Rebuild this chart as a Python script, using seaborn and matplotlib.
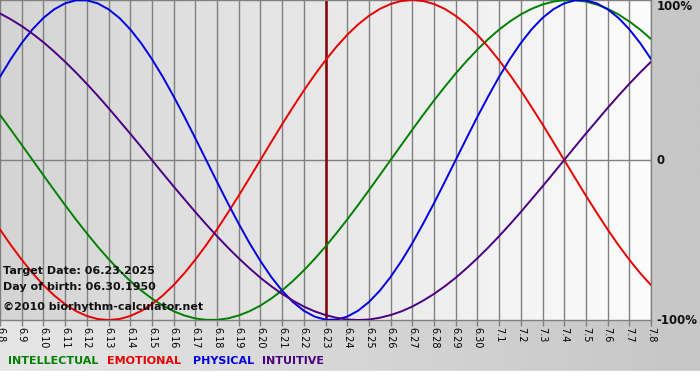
import numpy as np
import pandas as pd
import matplotlib
matplotlib.use('Agg')
import matplotlib.pyplot as plt
from matplotlib.colors import LinearSegmentedColormap
import seaborn as sns

# day labels on the x axis
days = ['6.8', '6.9', '6.10', '6.11', '6.12', '6.13', '6.14', '6.15', '6.16', '6.17',
        '6.18', '6.19', '6.20', '6.21', '6.22', '6.23', '6.24', '6.25', '6.26', '6.27',
        '6.28', '6.29', '6.30', '7.1', '7.2', '7.3', '7.4', '7.5', '7.6', '7.7', '7.8']
target_day = '6.23'
samples_per_day = 2  # values read every half day

# cycle values (-1 .. 1), one every half day from 6.8 to 7.8
intellectual = [0.282, 0.189, 0.095, 0.0, -0.095, -0.189, -0.282, -0.372, -0.458, -0.541,
                -0.618, -0.690, -0.756, -0.815, -0.866, -0.910, -0.945, -0.972, -0.990, -0.999,
                -0.999, -0.990, -0.972, -0.945, -0.910, -0.866, -0.815, -0.756, -0.690, -0.618,
                -0.541, -0.458, -0.372, -0.282, -0.189, -0.095, 0.0, 0.095, 0.189, 0.282,
                0.372, 0.458, 0.541, 0.618, 0.690, 0.756, 0.815, 0.866, 0.910, 0.945,
                0.972, 0.990, 0.999, 0.999, 0.990, 0.972, 0.945, 0.910, 0.866, 0.815, 0.756]
emotional = [-0.434, -0.532, -0.623, -0.707, -0.782, -0.847, -0.901, -0.944, -0.975, -0.994,
             -1.0, -0.994, -0.975, -0.944, -0.901, -0.847, -0.782, -0.707, -0.623, -0.532,
             -0.434, -0.330, -0.223, -0.112, 0.0, 0.112, 0.223, 0.330, 0.434, 0.532,
             0.623, 0.707, 0.782, 0.847, 0.901, 0.944, 0.975, 0.994, 1.0, 0.994,
             0.975, 0.944, 0.901, 0.847, 0.782, 0.707, 0.623, 0.532, 0.434, 0.330,
             0.223, 0.112, 0.0, -0.112, -0.223, -0.330, -0.434, -0.532, -0.623, -0.707, -0.782]
physical = [0.520, 0.631, 0.731, 0.817, 0.888, 0.942, 0.979, 0.998, 0.998, 0.979,
            0.942, 0.888, 0.817, 0.731, 0.631, 0.520, 0.398, 0.270, 0.136, 0.0,
            -0.136, -0.270, -0.398, -0.520, -0.631, -0.731, -0.817, -0.888, -0.942, -0.979,
            -0.998, -0.998, -0.979, -0.942, -0.888, -0.817, -0.731, -0.631, -0.520, -0.398,
            -0.270, -0.136, 0.0, 0.136, 0.270, 0.398, 0.520, 0.631, 0.731, 0.817,
            0.888, 0.942, 0.979, 0.998, 0.998, 0.979, 0.942, 0.888, 0.817, 0.731, 0.631]
intuitive = [0.916, 0.879, 0.837, 0.789, 0.736, 0.677, 0.614, 0.547, 0.476, 0.402,
             0.325, 0.245, 0.165, 0.083, 0.0, -0.083, -0.165, -0.245, -0.325, -0.402,
             -0.476, -0.547, -0.614, -0.677, -0.736, -0.789, -0.837, -0.879, -0.916, -0.946,
             -0.969, -0.986, -0.997, -1.0, -0.997, -0.986, -0.969, -0.946, -0.916, -0.879,
             -0.837, -0.789, -0.736, -0.677, -0.614, -0.547, -0.476, -0.402, -0.325, -0.245,
             -0.165, -0.083, 0.0, 0.083, 0.165, 0.245, 0.325, 0.402, 0.476, 0.547, 0.614]

series_names = ['INTELLECTUAL', 'EMOTIONAL', 'PHYSICAL', 'INTUITIVE']
series_colors = ['#008000', '#e80000', '#0000e0', '#4b0082']
info_lines = ['Target Date: 06.23.2025', 'Day of birth: 06.30.1950', '\u00a92010 biorhythm-calculator.net']


def main():
    rows = []
    for name, vals in zip(series_names, [intellectual, emotional, physical, intuitive]):
        for i, v in enumerate(vals):
            rows.append({'day': i / samples_per_day, 'value': v, 'series': name})
    df = pd.DataFrame(rows)

    sns.set_theme(style='white')
    plt.rcParams['font.family'] = ['DejaVu Sans']

    fig = plt.figure(figsize=(7, 3.8), dpi=100)

    # figure background gradient
    bg = fig.add_axes([0, 0, 1, 1], zorder=-10)
    fig_cmap = LinearSegmentedColormap.from_list('figbg', ['#e6e6e6', '#c6c6c6'])
    bg.imshow(np.linspace(0, 1, 256).reshape(1, -1), aspect='auto', cmap=fig_cmap,
              extent=[0, 1, 0, 1])
    bg.axhspan(0, 9 / 380, color='white')
    bg.set_xlim(0, 1)
    bg.set_ylim(0, 1)
    bg.axis('off')

    ax = fig.add_axes([0, 60 / 380, 651 / 700, 320 / 380])
    n = len(days) - 1
    plot_cmap = LinearSegmentedColormap.from_list('plotbg', ['#d4d4d4', '#fcfcfc'])
    ax.imshow(np.linspace(0, 1, 256).reshape(1, -1), aspect='auto', cmap=plot_cmap,
              extent=[0, n, -1, 1], zorder=-1)

    ax.set_xticks(range(len(days)))
    ax.set_xticklabels(days)
    ax.set_axisbelow(True)
    ax.grid(axis='x', color='#808080', lw=1)
    ax.axhline(0, color='#808080', lw=1, zorder=0.6)

    sns.lineplot(data=df, x='day', y='value', hue='series', hue_order=series_names,
                 palette=series_colors, legend=False, lw=1.4, ax=ax, zorder=3)

    ax.axvline(days.index(target_day), color='#800000', lw=1.8, zorder=2)

    ax.set_xlim(0, n)
    ax.set_ylim(-1, 1)
    ax.set_xlabel('')
    ax.set_ylabel('')
    ax.set_yticks([])
    ax.tick_params(axis='x', bottom=True, length=4, width=1, color='#808080', direction='out',
                   labelsize=7, labelrotation=-90, pad=1, labelcolor='black')
    for s in ax.spines.values():
        s.set_color('#808080')
        s.set_linewidth(1)
    ax.spines['left'].set_visible(False)

    # percentage labels on the right
    ax.text(1.009, 1.0, '100%', transform=ax.transAxes, ha='left', va='top',
            fontsize=8.5, fontweight='bold', color='#111111')
    ax.text(1.009, 0.5, '0', transform=ax.transAxes, ha='left', va='center',
            fontsize=8.5, fontweight='bold', color='#111111')
    ax.text(1.009, 0.0, '-100%', transform=ax.transAxes, ha='left', va='center',
            fontsize=8.5, fontweight='bold', color='#111111')

    # info text in the lower-left corner
    for txt, y in zip(info_lines, [271, 287, 307]):
        fig.text(3 / 700, 1 - y / 380, txt, ha='left', va='center', fontsize=8,
                 fontweight='bold', color='#111111')

    # colored legend words
    for name, col, x in zip(series_names, series_colors, [8, 107, 193, 262]):
        fig.text(x / 700, 1 - 361 / 380, name, ha='left', va='center', fontsize=8,
                 fontweight='bold', color=col)

    fig.savefig('out.png', dpi=100)
    plt.close(fig)


if __name__ == "__main__":
    main()
